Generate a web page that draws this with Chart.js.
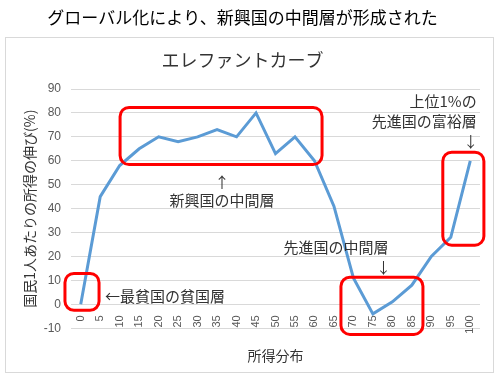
<!DOCTYPE html>
<html lang="ja">
<head>
  <meta charset="UTF-8">
  <title>エレファントカーブ</title>
  <style>
    body { margin: 0; background: #fff; }
    .wrap { width: 500px; height: 384px; }
  </style>
  <script src="https://cdn.jsdelivr.net/npm/chart.js"></script>
</head>
<body>
  <div class="wrap"><canvas id="chart" width="500" height="384"></canvas></div>
  <script>
    // data
    const categories = ['0','5','10','15','20','25','30','35','40','45','50','55','60','65','70','75','80','85','90','95','100'];
    const growth = [0, 45, 58, 65, 70, 68, 70, 73, 70, 80, 63, 70, 60, 41, 11, -4, 1, 8, 20, 28, 60];
    const yMin = -10, yMax = 90, yStep = 10;

    const headerText = 'グローバル化により、新興国の中間層が形成された';
    const chartTitle = 'エレファントカーブ';
    const yTitle = '国民1人あたりの所得の伸び(%)';
    const xTitle = '所得分布';

    // red boxes, in data units: [xFrom, xTo, yTop, yBottom]
    const boxes = [
      [-0.81, 0.94, 12.9, -2.5],
      [2.02, 12.39, 82.3, 58.4],
      [13.36, 17.57, 11.3, -12.6],
      [18.59, 20.7, 63.6, 24.7]
    ];
    // notes, in data units
    const notes = [
      { text: '新興国の中間層', x: 7.25, y: 43.4, align: 'center' },
      { text: '↑', x: 7.25, y: 51.1, align: 'center' },
      { text: '←最貧国の貧国層', x: 1.25, y: 3.2, align: 'left' },
      { text: '先進国の中間層', x: 13.11, y: 23.9, align: 'center' },
      { text: '↓', x: 15.54, y: 15.4, align: 'center' },
      { text: '上位1%の', x: 20.33, y: 84.7, align: 'right' },
      { text: '先進国の富裕層', x: 20.33, y: 76.6, align: 'right' },
      { text: '↓', x: 20.02, y: 68.1, align: 'center' }
    ];

    const jp = '"Noto Sans CJK JP", "Noto Sans", sans-serif';

    const frame = {
      id: 'frame',
      beforeDraw(chart) {
        const ctx = chart.ctx;
        ctx.save();
        ctx.fillStyle = '#fff';
        ctx.fillRect(0, 0, chart.width, chart.height);
        ctx.strokeStyle = '#d9d9d9';
        ctx.lineWidth = 1;
        ctx.strokeRect(5.5, 37.5, 488, 335);
        ctx.restore();
      }
    };

    const marks = {
      id: 'marks',
      afterDatasetsDraw(chart) {
        const { ctx, scales: { x, y } } = chart;
        ctx.save();
        ctx.strokeStyle = '#ff0000';
        ctx.lineWidth = 3;
        boxes.forEach(b => {
          const x0 = x.getPixelForValue(b[0]), x1 = x.getPixelForValue(b[1]);
          const y0 = y.getPixelForValue(b[2]), y1 = y.getPixelForValue(b[3]);
          ctx.beginPath();
          ctx.roundRect(x0, y0, x1 - x0, y1 - y0, 9);
          ctx.stroke();
        });
        ctx.fillStyle = '#333';
        ctx.font = '15px ' + jp;
        ctx.textBaseline = 'middle';
        notes.forEach(n => {
          ctx.textAlign = n.align;
          ctx.fillText(n.text, x.getPixelForValue(n.x), y.getPixelForValue(n.y));
        });
        ctx.restore();
      }
    };

    new Chart(document.getElementById('chart'), {
      type: 'line',
      data: {
        labels: categories,
        datasets: [{
          data: growth,
          borderColor: '#5b9bd5',
          borderWidth: 3,
          pointRadius: 0,
          tension: 0,
          fill: false
        }]
      },
      options: {
        responsive: false,
        animation: false,
        layout: { padding: { left: 5, right: 20, top: 0, bottom: 16 } },
        plugins: {
          legend: { display: false },
          tooltip: { enabled: false },
          title: {
            display: true, text: headerText, color: '#000',
            font: { family: jp, size: 17, weight: 'normal' },
            padding: { top: 7, bottom: 21.8 }
          },
          subtitle: {
            display: true, text: chartTitle, color: '#333',
            font: { family: jp, size: 18, weight: 'normal' },
            padding: { top: 0, bottom: 18.2 }
          }
        },
        scales: {
          x: {
            type: 'category',
            offset: true,
            position: { y: 0 },
            grid: { display: false },
            border: { display: false },
            ticks: {
              minRotation: 90, maxRotation: 90, autoSkip: false, padding: 3,
              color: '#595959', font: { family: '"Liberation Sans", sans-serif', size: 11 }
            }
          },
          x2: {
            type: 'linear',
            position: 'bottom',
            grid: { display: false },
            border: { display: false },
            ticks: { display: false },
            title: {
              display: true, text: xTitle, color: '#333',
              font: { family: jp, size: 14 },
              padding: { top: 11, bottom: 4 }
            }
          },
          y: {
            min: yMin, max: yMax,
            afterFit: s => { s.width = 66; },
            grid: { color: '#d9d9d9', drawTicks: false },
            border: { display: false },
            ticks: {
              stepSize: yStep, padding: 10,
              color: '#595959', font: { family: '"Liberation Sans", sans-serif', size: 12 }
            },
            title: {
              display: true, text: yTitle, color: '#333',
              font: { family: jp, size: 14 },
              padding: { top: 16, bottom: 0 }
            }
          }
        }
      },
      plugins: [frame, marks]
    });
  </script>
</body>
</html>
